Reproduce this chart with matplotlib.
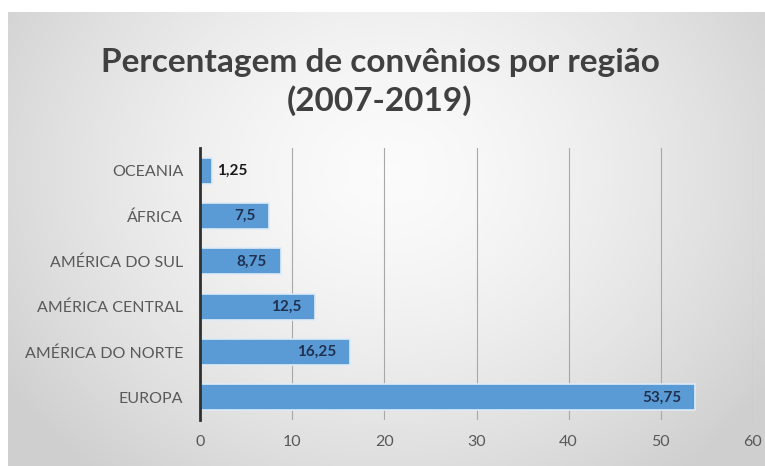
import matplotlib
matplotlib.use("Agg")
import matplotlib.pyplot as plt
import numpy as np

categories = ["EUROPA", "AMÉRICA DO NORTE", "AMÉRICA CENTRAL", "AMÉRICA DO SUL", "ÁFRICA", "OCEANIA"]
values = [53.75, 16.25, 12.5, 8.75, 7.5, 1.25]
labels = ["53,75", "16,25", "12,5", "8,75", "7,5", "1,25"]
xticks = [0, 10, 20, 30, 40, 50, 60]

plt.rcParams['font.family'] = ['Lato', 'DejaVu Sans']

W, H = 765, 466
fig = plt.figure(figsize=(W/100, H/100), dpi=100)
fig.patch.set_facecolor('white')

# background gradient
bg = fig.add_axes([8/W, 0, (W-8)/W, (H-12)/H])
bg.set_axis_off()
ny, nx = 200, 320
yy, xx = np.mgrid[0:ny, 0:nx]
cx, cy = nx*0.5, ny*0.35
r = np.sqrt(((xx-cx)/(nx*0.6))**2 + ((yy-cy)/(ny*0.85))**2)
r = np.clip(r, 0, 1)
val = 0.985 - 0.17*r**1.5
img = np.dstack([val, val, val])
bg.imshow(img, aspect='auto', extent=[0, 1, 0, 1], interpolation='bilinear')
bg.set_xlim(0, 1); bg.set_ylim(0, 1)

ax = fig.add_axes([200/W, 46/H, 553/W, 272/H])
ax.patch.set_alpha(0)
ypos = np.arange(len(categories))
ax.barh(ypos, values, height=0.58, color='#5B9BD5', edgecolor='#DDEBF7', linewidth=1.2, zorder=3)
ax.set_xlim(0, 60)
ax.set_ylim(-0.5, len(categories)-0.5)
ax.set_xticks(xticks)
ax.set_xticklabels([str(t) for t in xticks])
ax.set_yticks(ypos)
ax.set_yticklabels(categories)
ax.tick_params(axis='both', length=0, colors='#595959', labelsize=11.5)
ax.tick_params(axis='y', pad=12)
ax.tick_params(axis='x', pad=11)
ax.grid(axis='x', color='#a8a8a8', linewidth=0.8, zorder=0)
for s in ['top', 'right', 'bottom']:
    ax.spines[s].set_visible(False)
ax.spines['left'].set_color('#303030')
ax.spines['left'].set_linewidth(2)
ax.spines['left'].set_zorder(4)

for y, v, lab in zip(ypos, values, labels):
    if v < 5:
        ax.text(v + 0.6, y, lab, ha='left', va='center', fontsize=11, fontweight='bold', color='#1a1a1a', zorder=5)
    else:
        ax.text(v - 1.5, y, lab, ha='right', va='center', fontsize=11, fontweight='bold', color='#1F3050', zorder=5)

fig.text(380/W, 1-82/H, "Percentagem de convênios por região\n(2007-2019)", ha='center', va='center',
         fontsize=24, fontweight='bold', color='#404040', linespacing=1.32)

fig.savefig("out.png", dpi=100)
